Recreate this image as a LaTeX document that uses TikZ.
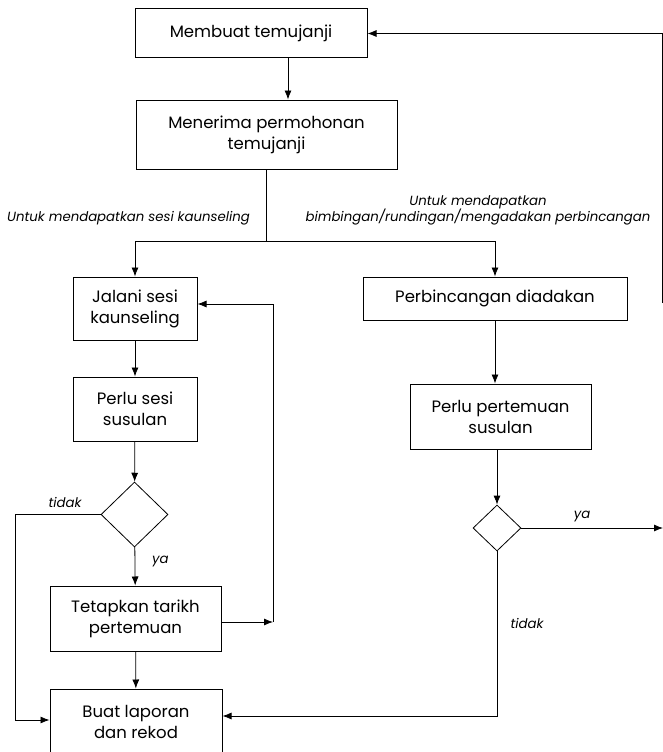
\documentclass[tikz,border=0pt]{standalone}
\usepackage{fontspec}
\setmainfont{Poppins}
\usetikzlibrary{shapes.geometric,arrows.meta}

\begin{document}
\begin{tikzpicture}[x=1pt,y=-1pt,
    box/.style={draw,line width=1pt,inner sep=0pt,align=center,font=\fontsize{16.5}{21}\selectfont},
    choice/.style={draw,diamond,line width=0.8pt,inner sep=0pt},
    lbl/.style={font=\itshape\fontsize{13.3}{16}\selectfont,align=center,inner sep=0pt},
    line/.style={line width=0.8pt},
    >={Latex[length=9pt,width=7pt]}]
  \useasboundingbox (0,0) rectangle (663,752);

  \node[box,minimum width=232pt,minimum height=49pt] (m1) at (251,33.5) {Membuat temujanji};
  \node[box,minimum width=261pt,minimum height=69pt] (m2) at (266.5,134.5) {Menerima permohonan\\temujanji};
  \node[box,minimum width=124pt,minimum height=63pt] (m3) at (135,308.5) {Jalani sesi\\kaunseling};
  \node[box,minimum width=124pt,minimum height=64pt] (m4) at (135,409) {Perlu sesi\\susulan};
  \node[choice,minimum width=67pt,minimum height=65pt] (d1) at (134.5,514.5) {};
  \node[box,minimum width=171pt,minimum height=65pt] (m5) at (135.5,618.5) {Tetapkan tarikh\\pertemuan};
  \node[box,minimum width=172pt,minimum height=66pt] (m6) at (136,722) {Buat laporan\\dan rekod};
  \node[box,minimum width=264pt,minimum height=43pt] (m7) at (495,298.5) {Perbincangan diadakan};
  \node[box,minimum width=181pt,minimum height=65pt] (m8) at (500.5,416.5) {Perlu pertemuan\\susulan};
  \node[choice,minimum width=48pt,minimum height=46pt] (d2) at (497,528) {};

  \node[lbl] (l1) at (128.5,218) {Untuk mendapatkan sesi kaunseling};
  \node[lbl] (l2) at (478,210) {Untuk mendapatkan\\bimbingan/rundingan/mengadakan perbincangan};
  \node[lbl] (l3) at (65,502) {tidak};
  \node[lbl,anchor=west] (l4) at (152,562) {ya};
  \node[lbl] (l5) at (582,517) {ya};
  \node[lbl] (l6) at (527,623) {tidak};

  \coordinate (j1) at (266.5,241);
  \coordinate (c1) at (15,514.5);
  \coordinate (c2) at (273,622);
  \coordinate (c3) at (663,528);
  \coordinate (c4) at (662,303);

  \draw[line,->] ([xshift=37pt]m1.south) -- ([xshift=37pt]m1.south |- m2.north);
  \draw[line] (m2) -- (j1);
  \draw[line,->] (j1) -| (m3);
  \draw[line,->] (j1) -| (m7);
  \draw[line,->] (m3) -- (m4);
  \draw[line,->] (m4) -- (d1);
  \draw[line,->] (d1.west) -- (c1) |- ([yshift=2pt]m6.west);
  \draw[line,->] (d1) -- (m5);
  \draw[line,->] ([yshift=-3.5pt]m5.east) -- (c2);
  \draw[line,->] (c2) |- ([yshift=4.5pt]m3.east);
  \draw[line,->] (m5) -- (m6);
  \draw[line,->] (m7.south) -- (m7.south |- m8.north);
  \draw[line,->] (m8.south -| d2.north) -- (d2.north);
  \draw[line,->] (d2.east) -- (c3);
  \draw[line,->] (d2.south) |- ([yshift=6pt]m6.east);
  \draw[line,->] (c4) |- (m1.east);
\end{tikzpicture}
\end{document}
